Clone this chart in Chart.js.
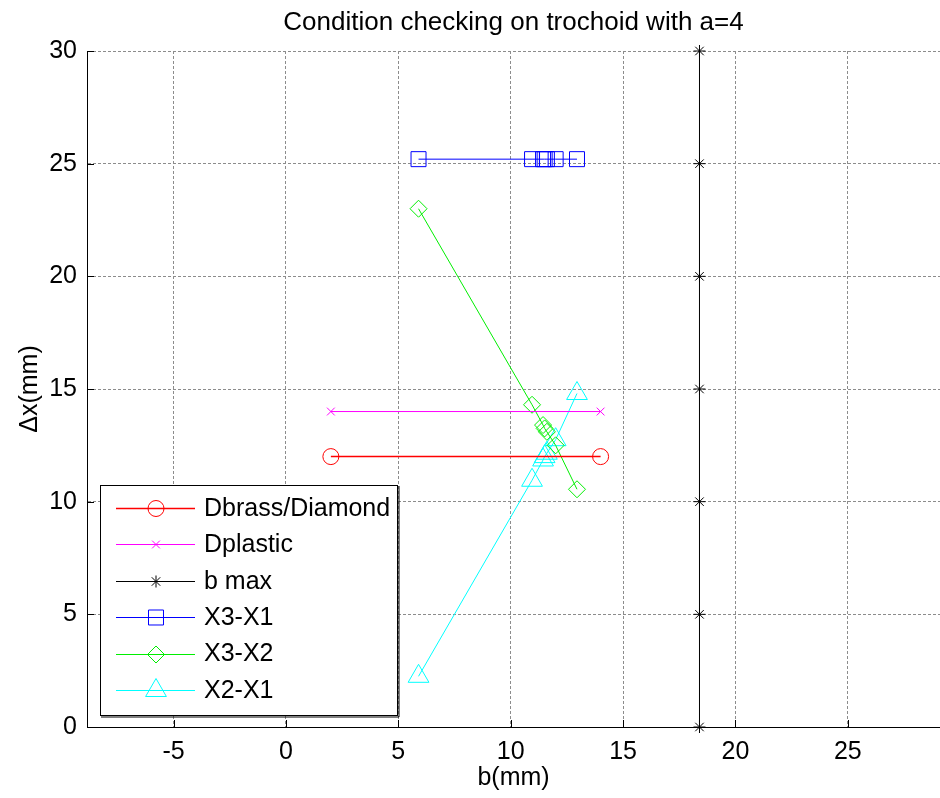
<!DOCTYPE html>
<html><head><meta charset="utf-8">
<script src="https://cdn.jsdelivr.net/npm/chart.js@4.4.1/dist/chart.umd.min.js"></script>
<style>html,body{margin:0;padding:0;background:#fff}canvas{display:block}</style>
</head><body>
<canvas id="c" width="940" height="798"></canvas>
<script>
// ---- data ----
const chartTitle = 'Condition checking on trochoid with a=4';
const xTitle = 'b(mm)';
const yTitle = 'Δx(mm)';
const xTickValues = [-5, 0, 5, 10, 15, 20, 25];
const yTickValues = [0, 5, 10, 15, 20, 25, 30];
const xLimits = [-8.85, 29.1];
const yLimits = [0, 30];
const seriesNames = ['Dbrass/Diamond', 'Dplastic', 'b max', 'X3-X1', 'X3-X2', 'X2-X1'];
const dBrassX = [2, 14];
const dBrassY = [12, 12];
const dPlasticX = [2, 14];
const dPlasticY = [14, 14];
const bMaxX = [18.4, 18.4, 18.4, 18.4, 18.4, 18.4, 18.4];
const bMaxY = [0, 5, 10, 15, 20, 25, 30];
const bValues = [5.9, 10.95, 11.44, 11.51, 11.61, 12.0, 12.95];
const x3x1 = [25.2, 25.2, 25.2, 25.2, 25.2, 25.2, 25.2];
const x3x2 = [23.0, 14.3, 13.4, 13.25, 13.1, 12.5, 10.55];
const x2x1 = [2.25, 10.95, 11.85, 12.0, 12.15, 12.75, 14.8];

// ---- styles ----
const FONT = '"Liberation Sans", Arial, Helvetica, sans-serif';
const FS = 25;
const pts = (xs, ys) => xs.map((x, i) => ({x: x, y: ys[i]}));
function ds(label, data, color, style, radius, lw) {
  return {
    label: label, data: data, showLine: true, borderColor: color, backgroundColor: 'rgba(0,0,0,0)',
    borderWidth: lw || 1, pointStyle: style, pointRadius: radius, pointHoverRadius: radius,
    pointBorderColor: color, pointBackgroundColor: 'rgba(0,0,0,0)', pointBorderWidth: 1,
    clip: false, tension: 0
  };
}
const datasets = [
  ds(seriesNames[0], pts(dBrassX, dBrassY), '#ff0000', 'circle', 8, 1.5),
  ds(seriesNames[1], pts(dPlasticX, dPlasticY), '#ff00ff', 'crossRot', 5.5, 1),
  ds(seriesNames[2], pts(bMaxX, bMaxY), '#000000', 'star', 6, 1),
  ds(seriesNames[3], pts(bValues, x3x1), '#0000ff', 'rect', 10.6, 1),
  ds(seriesNames[4], pts(bValues, x3x2), '#00ee00', 'rectRot', 8.5, 1),
  ds(seriesNames[5], pts(bValues, x2x1), '#00ffff', 'triangle', 12, 1)
];

const inwardTicks = {
  id: 'inwardTicks',
  afterDatasetsDraw(chart) {
    const ctx = chart.ctx, a = chart.chartArea;
    const xs = chart.scales.x, ys = chart.scales.y;
    ctx.save();
    ctx.strokeStyle = '#000'; ctx.lineWidth = 1;
    ctx.beginPath();
    xTickValues.forEach(v => { const px = Math.round(xs.getPixelForValue(v)) + 0.5; ctx.moveTo(px, a.bottom); ctx.lineTo(px, a.bottom - 7); });
    yTickValues.forEach(v => { const py = Math.round(ys.getPixelForValue(v)) + 0.5; ctx.moveTo(a.left, py); ctx.lineTo(a.left + 7, py); });
    ctx.stroke();
    ctx.restore();
  }
};

const matLegend = {
  id: 'matLegend',
  afterDraw(chart) {
    const ctx = chart.ctx;
    const bx = 100, by = 485, bw = 297, bh = 230;
    ctx.save();
    ctx.fillStyle = '#fff';
    ctx.fillRect(bx, by, bw, bh);
    ctx.strokeStyle = '#000'; ctx.lineWidth = 1;
    ctx.strokeRect(bx + 0.5, by + 0.5, bw, bh);
    ctx.beginPath();
    ctx.moveTo(bx + 1, by + bh + 2); ctx.lineTo(bx + bw + 2, by + bh + 2); ctx.lineTo(bx + bw + 2, by + 1);
    ctx.stroke();
    ctx.font = FS + 'px ' + FONT;
    ctx.textBaseline = 'middle';
    ctx.textAlign = 'left';
    chart.data.datasets.forEach((d, i) => {
      const y = by + 23 + i * 36.4;
      ctx.strokeStyle = d.borderColor; ctx.lineWidth = d.borderWidth;
      ctx.beginPath(); ctx.moveTo(116, Math.round(y) + 0.5); ctx.lineTo(195, Math.round(y) + 0.5); ctx.stroke();
      ctx.strokeStyle = d.pointBorderColor; ctx.fillStyle = 'rgba(0,0,0,0)'; ctx.lineWidth = 1;
      Chart.helpers.drawPoint(ctx, {pointStyle: d.pointStyle, radius: d.pointRadius, rotation: 0, borderWidth: 1}, 156, Math.round(y) + 0.5);
      ctx.fillStyle = '#000';
      ctx.fillText(d.label, 204, y + 1);
    });
    ctx.restore();
  }
};

new Chart(document.getElementById('c'), {
  type: 'scatter',
  data: {datasets: datasets},
  options: {
    responsive: false, animation: false, devicePixelRatio: 1,
    layout: {padding: 0, autoPadding: false},
    plugins: {
      legend: {display: false}, tooltip: {enabled: false},
      title: {display: true, text: chartTitle, fullSize: false, color: '#000',
        font: {family: FONT, size: 26, weight: 'normal'}, padding: {top: 7, bottom: 12.8}}
    },
    scales: {
      x: {
        type: 'linear', position: 'bottom', min: xLimits[0], max: xLimits[1],
        afterBuildTicks: s => { s.ticks = xTickValues.map(v => ({value: v})); },
        afterFit: s => { s.height = 71; },
        grid: {color: '#8c8c8c', lineWidth: 1, drawTicks: false},
        border: {display: true, color: '#000', width: 1, dash: [3, 2]},
        ticks: {color: '#000', font: {family: FONT, size: FS}, padding: 10, maxRotation: 0},
        title: {display: true, text: xTitle, color: '#000', font: {family: FONT, size: FS}, padding: 5}
      },
      y: {
        type: 'linear', position: 'left', min: yLimits[0], max: yLimits[1],
        afterBuildTicks: s => { s.ticks = yTickValues.map(v => ({value: v})); },
        afterFit: s => { s.width = 87; },
        grid: {color: '#8c8c8c', lineWidth: 1, drawTicks: false},
        border: {display: true, color: '#000', width: 1, dash: [3, 2]},
        ticks: {color: '#000', font: {family: FONT, size: FS}, padding: 10},
        title: {display: true, text: yTitle, color: '#000', font: {family: FONT, size: FS}, padding: 15}
      }
    }
  },
  plugins: [inwardTicks, matLegend]
});
</script>
</body></html>
